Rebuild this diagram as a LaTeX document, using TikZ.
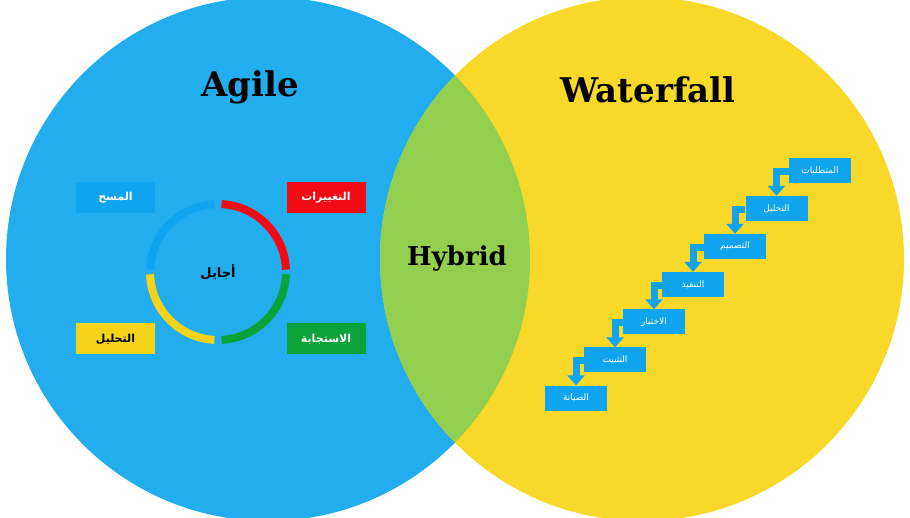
\documentclass[tikz,border=0pt]{standalone}
\usepackage{fontspec}
\setmainfont{DejaVu Serif}
\newfontfamily\arabicfont[Script=Arabic]{DejaVu Sans}
\TeXXeTstate=1
\usetikzlibrary{arrows.meta}
\definecolor{agblue}{HTML}{22AEEE}
\definecolor{wfyel}{HTML}{F8D92A}
\definecolor{hygreen}{HTML}{93CF4F}
\definecolor{lblue}{HTML}{10A3EE}
\definecolor{rred}{HTML}{F30A14}
\definecolor{ggreen}{HTML}{0AA33A}
\definecolor{yyel}{HTML}{F5D31A}
\tikzset{
 title/.style={font=\bfseries\fontsize{34}{36}\selectfont},
 abox/.style={minimum width=79pt,minimum height=31pt,inner sep=0pt,font=\arabicfont\bfseries\fontsize{11}{12}\selectfont},
 wbox/.style={fill=lblue,minimum width=62pt,minimum height=25pt,inner sep=0pt,text=white,font=\arabicfont\fontsize{9}{10}\selectfont},
 warr/.style={draw=lblue,line width=7pt,-{Triangle[width=17pt,length=10pt]}},
 seg/.style={line width=8pt}
}
\begin{document}
\begin{tikzpicture}[x=1pt,y=-1pt]
\useasboundingbox (0,0) rectangle (910,518);
\fill[white] (0,0) rectangle (910,518);
\begin{scope}
\clip (0,0) rectangle (910,518);
\fill[agblue] (268,259) circle (262);
\fill[wfyel] (642,259) circle (262);
\begin{scope}
\clip (268,259) circle (262);
\fill[hygreen] (642,259) circle (262);
\end{scope}
\end{scope}
\node[title] (tag) at (250,87) {Agile};
\node[title] (twf) at (648,90) {Waterfall};
\node[font=\bfseries\fontsize{26}{28}\selectfont] (thy) at (457,259) {Hybrid};
\coordinate (rc) at (218,272);
\draw[seg,rred] (rc) ++(-87:68) arc[start angle=-87,end angle=-2,radius=68];
\draw[seg,ggreen] (rc) ++(2:68) arc[start angle=2,end angle=87,radius=68];
\draw[seg,yyel] (rc) ++(93:68) arc[start angle=93,end angle=178,radius=68];
\draw[seg,lblue] (rc) ++(-178:68) arc[start angle=-178,end angle=-93,radius=68];
\node[font=\arabicfont\bfseries\fontsize{13}{14}\selectfont] (ajl) at (rc) {\beginR أجايل\endR};
\node[abox,fill=lblue,text=white] (a1) at (115.5,197.5) {\beginR المسح\endR};
\node[abox,fill=rred,text=white] (a2) at (326,197.5) {\beginR التغييرات\endR};
\node[abox,fill=yyel,text=black] (a3) at (115.5,339) {\beginR التحليل\endR};
\node[abox,fill=ggreen,text=white] (a4) at (326,339) {\beginR الاستجابة\endR};
\node[wbox] (w1) at (820,170.5) {};
\node[wbox] (w2) at (776.5,208.5) {};
\node[wbox] (w3) at (735,246.5) {};
\node[wbox] (w4) at (693,284.5) {};
\node[wbox] (w5) at (654,322) {};
\node[wbox] (w6) at (615,360) {};
\node[wbox] (w7) at (576,398) {};
\foreach \a/\b in {w1/w2,w2/w3,w3/w4,w4/w5,w5/w6,w6/w7}
  \draw[warr] ([yshift=-1pt]\a.west) -| (\b.north);
\node[wbox] at (w1) {\beginR المتطلبات\endR};
\node[wbox] at (w2) {\beginR التحليل\endR};
\node[wbox] at (w3) {\beginR التصميم\endR};
\node[wbox] at (w4) {\beginR التنفيذ\endR};
\node[wbox] at (w5) {\beginR الاختبار\endR};
\node[wbox] at (w6) {\beginR التثبيت\endR};
\node[wbox] at (w7) {\beginR الصيانة\endR};
\end{tikzpicture}
\end{document}
